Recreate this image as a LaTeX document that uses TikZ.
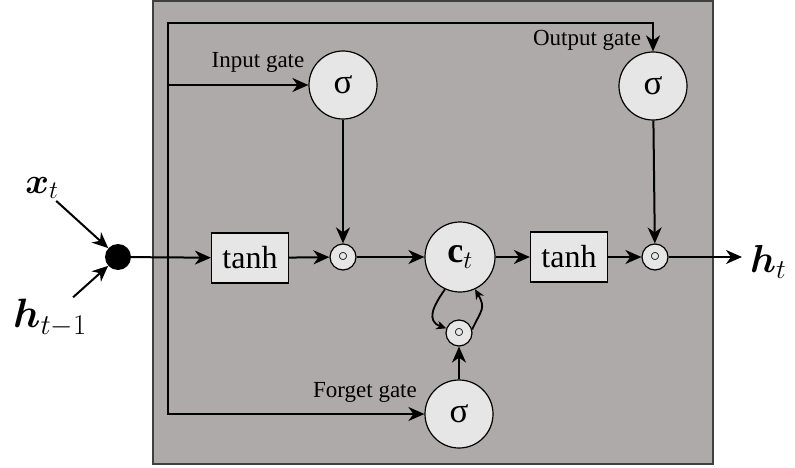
\RequirePackage{fix-cm}
\documentclass[tikz,border=0pt]{standalone}
\usepackage{amsmath,amssymb,bm}
\usepackage{fontspec}
\setmainfont{Liberation Serif}
\usetikzlibrary{arrows.meta,positioning,calc}
\definecolor{cellgray}{RGB}{174,170,169}
\definecolor{unitfill}{RGB}{230,230,230}

\begin{document}
\begin{tikzpicture}[x=1pt,y=1pt, >={Stealth[length=16pt,width=14pt,inset=5pt]},
  gate/.style={circle,draw,line width=1.2pt,fill=unitfill,minimum size=68pt,inner sep=0pt,font=\fontsize{35}{35}\selectfont},
  mul/.style={circle,draw,line width=1.2pt,fill=unitfill,minimum size=26pt,inner sep=0pt,font=\fontsize{20}{20}\selectfont},
  act/.style={rectangle,draw,line width=1.2pt,fill=unitfill,minimum width=77pt,minimum height=50pt,inner sep=0pt,font=\fontsize{32}{32}\selectfont},
  vec/.style={inner sep=2pt,font=\fontsize{36}{36}\selectfont},
  lbl/.style={inner sep=0pt,font=\fontsize{23}{23}\selectfont},
  e/.style={->,line width=2pt},
  loope/.style={->,line width=1.8pt,>={Stealth[length=10pt,width=9pt]}}]

\useasboundingbox (0,0) rectangle (795,467);
\draw[fill=cellgray,draw=black!75,line width=1.4pt] (153,3) rectangle (713,466);

% cell
\node[circle,fill=black,minimum size=26pt,inner sep=0pt] (in) at (118,210) {};
\node[act] (th1) at (250,209) {tanh};
\node[mul] (m1) at (343,210) {$\circ$};
\node[gate,minimum size=70pt,font=\fontsize{36}{36}\selectfont] (ct) at (460,210) {$\mathbf{c}_t$};
\node[act] (th2) at (569,210) {tanh};
\node[mul] (m2) at (655,210) {$\circ$};
\node[gate] (ig) at (343,382) {σ};
\node[gate] (og) at (653,381) {σ};
\node[gate] (fg) at (459,53) {σ};
\node[mul] (fm) at (459,134) {$\circ$};

% inputs and output
\node[vec] (xt) at (42,279) {$\bm{x}_t$};
\node[vec,font=\fontsize{41}{41}\selectfont] (hp) at (50,149) {$\bm{h}_{t-1}$};
\node[vec,font=\fontsize{39}{39}\selectfont,anchor=west] (ht) at (748,205) {$\bm{h}_t$};
\coordinate (jn) at (168,210);
\coordinate (tp) at (168,444);
\coordinate (out) at (742,210);

\node[lbl] (ilab) at (258,405) {Input gate};
\node[lbl] (olab) at (587,427) {Output gate};
\node[lbl] (flab) at (365,75) {Forget gate};

\draw[e] (xt) -- (in);
\draw[e] (hp) -- (in);
\draw[e] (in) -- (th1);
\draw[e] (th1) -- (m1);
\draw[e] (m1) -- (ct);
\draw[e] (ct) -- (th2);
\draw[e] (th2) -- (m2);
\draw[e] (m2) -- (out);

\draw[e] (jn) -- (tp) -| (og);
\draw[e] (jn) |- (ig);
\draw[e] (jn) |- (fg);
\draw[e] (ig) -- (m1);
\draw[e] (og) -- (m2);
\draw[e] (fg) -- (fm);

\draw[loope] (ct.245) to[out=235,in=160,looseness=1.4] (fm.160);
\draw[loope] (fm.15) to[out=65,in=300,looseness=1.4] (ct.295);
\end{tikzpicture}
\end{document}
